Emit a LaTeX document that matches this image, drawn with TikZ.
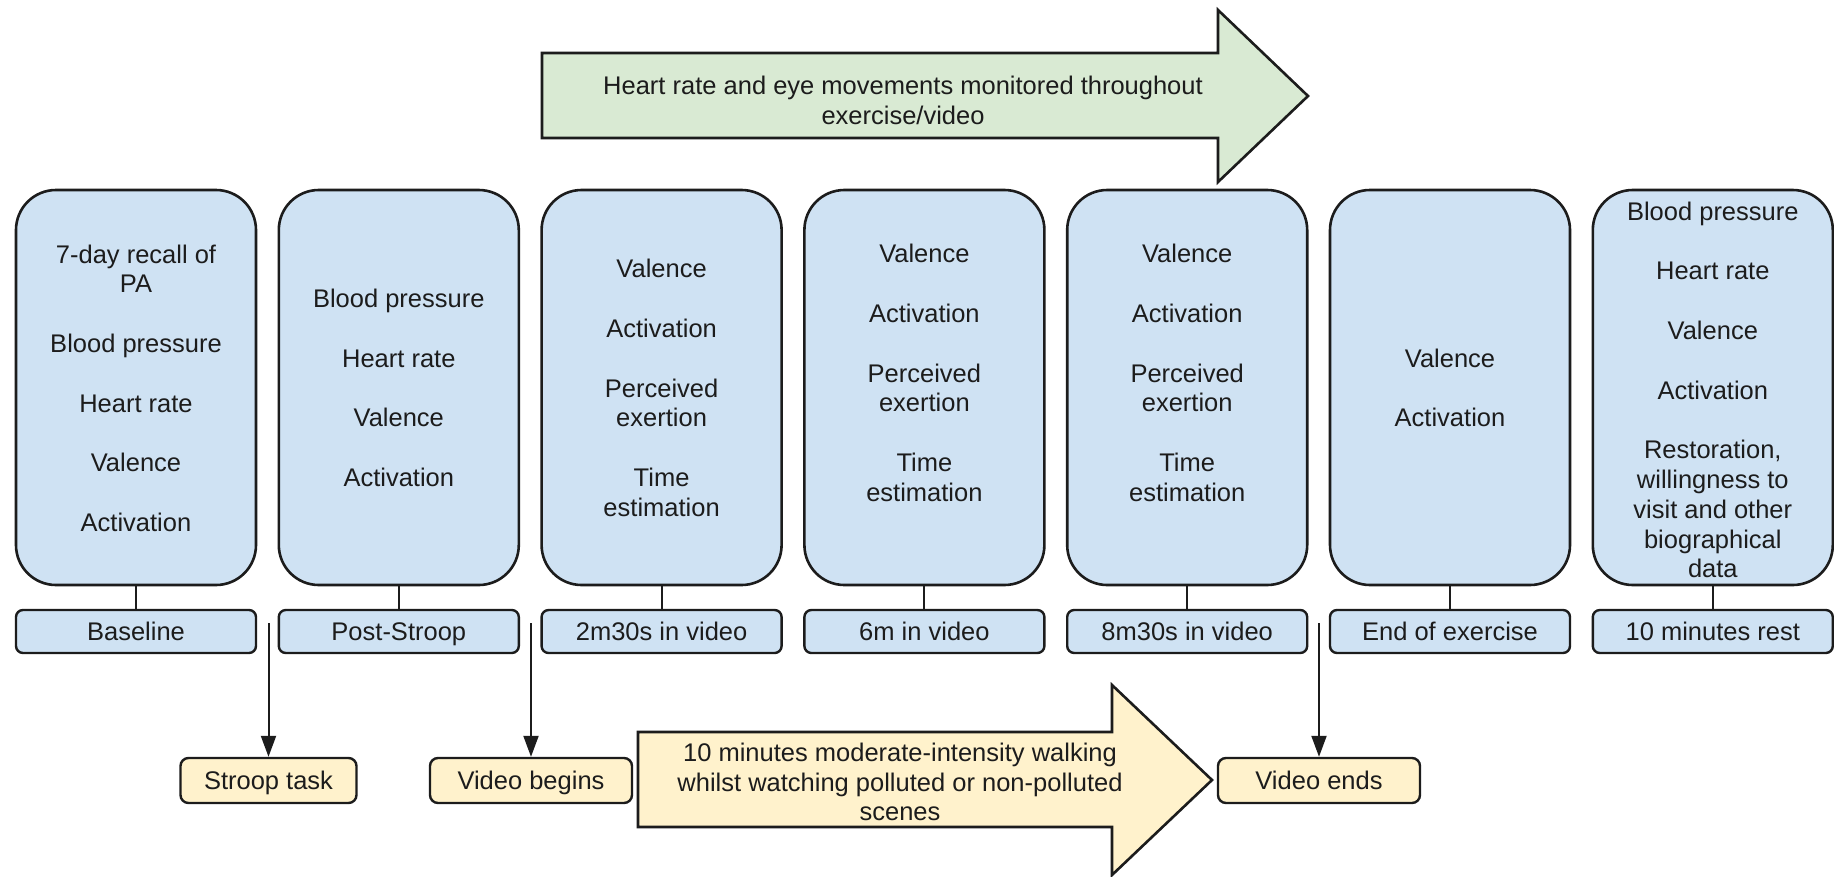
\documentclass[tikz,border=0pt]{standalone}
\usepackage{fontspec}
\setmainfont{Liberation Sans}
\usetikzlibrary{arrows.meta}

\definecolor{boxblue}{HTML}{CFE2F3}
\definecolor{arrowgreen}{HTML}{D9EAD3}
\definecolor{noteyellow}{HTML}{FFF2CC}
\definecolor{ink}{HTML}{1C1C1C}

\begin{document}
\begin{tikzpicture}[x=1pt,y=-1pt,
  every node/.style={font=\fontsize{25.5}{29.8}\selectfont, text=ink},
  stage/.style={draw=ink, line width=2.6pt, fill=boxblue, rounded corners=40pt,
    minimum width=240pt, minimum height=395pt, inner sep=0pt},
  stagetext/.style={align=center, inner sep=0pt},
  timebox/.style={draw=ink, line width=2.4pt, fill=boxblue, rounded corners=7pt,
    minimum width=240pt, minimum height=43pt, inner sep=0pt,
    text height=20pt, text depth=3pt},
  eventbox/.style={draw=ink, line width=2.4pt, fill=noteyellow, rounded corners=8pt,
    minimum height=45pt, inner sep=0pt, text height=20pt, text depth=3pt},
  link/.style={draw=ink, line width=2pt},
  flow/.style={draw=ink, line width=2pt, -{Triangle[length=21pt,width=15pt]}},
  bigarrow/.style={draw=ink, line width=2.6pt, line join=miter},
]
% canvas
\path[fill=white] (0,0) rectangle (1834,876);
\useasboundingbox (0,0) rectangle (1834,876);

% monitoring arrow across the top
\path[bigarrow, fill=arrowgreen] (542,53) -- (1218,53) -- (1218,10) -- (1308,96)
  -- (1218,182) -- (1218,138) -- (542,138) -- cycle;
\node[align=center, inner sep=0pt] (monitor) at (903,100)
  {Heart rate and eye movements monitored throughout\\exercise/video};

% measurement stages
\node[stage] (b1) at (136,387.5) {};
\node[stage] (b2) at (398.8,387.5) {};
\node[stage] (b3) at (661.6,387.5) {};
\node[stage] (b4) at (924.4,387.5) {};
\node[stage] (b5) at (1187.2,387.5) {};
\node[stage] (b6) at (1450,387.5) {};
\node[stage] (b7) at (1712.8,387.5) {};

\node[stagetext] (t1) at (136,388)
  {7-day recall of\\PA\\[29.8pt]Blood pressure\\[29.8pt]Heart rate\\[29.8pt]Valence\\[29.8pt]Activation};
\node[stagetext] (t2) at (398.8,388)
  {Blood pressure\\[29.8pt]Heart rate\\[29.8pt]Valence\\[29.8pt]Activation};
\node[stagetext] (t3) at (661.6,388)
  {Valence\\[29.8pt]Activation\\[29.8pt]Perceived\\exertion\\[29.8pt]Time\\estimation};
\node[stagetext] (t4) at (924.4,373)
  {Valence\\[29.8pt]Activation\\[29.8pt]Perceived\\exertion\\[29.8pt]Time\\estimation};
\node[stagetext] (t5) at (1187.2,373)
  {Valence\\[29.8pt]Activation\\[29.8pt]Perceived\\exertion\\[29.8pt]Time\\estimation};
\node[stagetext] (t6) at (1450,388)
  {Valence\\[29.8pt]Activation};
\node[stagetext] (t7) at (1712.8,390)
  {Blood pressure\\[29.8pt]Heart rate\\[29.8pt]Valence\\[29.8pt]Activation\\[29.8pt]Restoration,\\willingness to\\visit and other\\biographical\\data};

% time points
\node[timebox] (l1) at (136,631.5) {Baseline};
\node[timebox] (l2) at (398.8,631.5) {Post-Stroop};
\node[timebox] (l3) at (661.6,631.5) {2m30s in video};
\node[timebox] (l4) at (924.4,631.5) {6m in video};
\node[timebox] (l5) at (1187.2,631.5) {8m30s in video};
\node[timebox] (l6) at (1450,631.5) {End of exercise};
\node[timebox] (l7) at (1712.8,631.5) {10 minutes rest};

\foreach \i in {1,...,7} \draw[link] (b\i.south) -- (l\i.north);

% events between time points
\node[eventbox, minimum width=176pt] (stroop) at (268.5,780.5) {Stroop task};
\node[eventbox, minimum width=202pt] (vbegin) at (531,780.5) {Video begins};
\node[eventbox, minimum width=202pt] (vend) at (1319,780.5) {Video ends};

\coordinate (d1) at (268.5,623);
\coordinate (d2) at (531,623);
\coordinate (d3) at (1319,623);
\draw[flow] (d1) -- (d1 |- stroop.north);
\draw[flow] (d2) -- (d2 |- vbegin.north);
\draw[flow] (d3) -- (d3 |- vend.north);

% exercise arrow
\path[bigarrow, fill=noteyellow] (638,732) -- (1112,732) -- (1112,685) -- (1212,780)
  -- (1112,875) -- (1112,827) -- (638,827) -- cycle;
\node[align=center, inner sep=0pt] (walk) at (900,782)
  {10 minutes moderate-intensity walking\\whilst watching polluted or non-polluted\\scenes};
\end{tikzpicture}
\end{document}
